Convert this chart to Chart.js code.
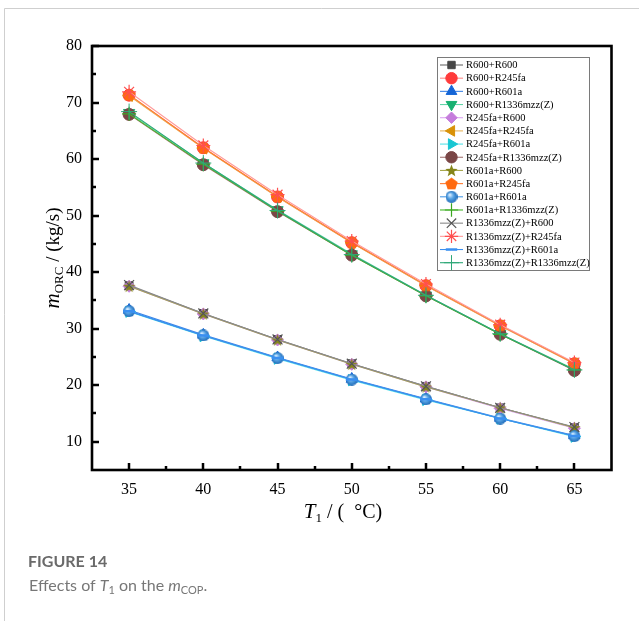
<!DOCTYPE html>
<html><head><meta charset="utf-8">
<script src="https://cdn.jsdelivr.net/npm/chart.js@4/dist/chart.umd.min.js"></script>
<style>html,body{margin:0;padding:0;background:#fff}#wrap{width:639px;height:621px;position:relative}</style>
</head><body><div id="wrap"><canvas id="c" width="639" height="621"></canvas></div>
<script>
// ---- data ----
const T1 = [35, 40, 45, 50, 55, 60, 65];
const xTicks = [35, 40, 45, 50, 55, 60, 65];
const yTicks = [10, 20, 30, 40, 50, 60, 70, 80];
const seriesNames = [
  'R600+R600', 'R600+R245fa', 'R600+R601a', 'R600+R1336mzz(Z)',
  'R245fa+R600', 'R245fa+R245fa', 'R245fa+R601a', 'R245fa+R1336mzz(Z)',
  'R601a+R600', 'R601a+R245fa', 'R601a+R601a', 'R601a+R1336mzz(Z)',
  'R1336mzz(Z)+R600', 'R1336mzz(Z)+R245fa', 'R1336mzz(Z)+R601a', 'R1336mzz(Z)+R1336mzz(Z)'
];
const m_R600_R600       = [37.6, 32.7, 28.1, 23.8, 19.8, 16.0, 12.5];
const m_R600_R245fa     = [71.3, 62.0, 53.3, 45.2, 37.6, 30.5, 23.8];
const m_R600_R601a      = [33.3, 28.9, 24.9, 21.1, 17.6, 14.2, 11.1];
const m_R600_R1336      = [68.2, 59.3, 51.0, 43.2, 35.9, 29.1, 22.8];
const m_R245fa_R600     = [37.5, 32.6, 28.0, 23.7, 19.7, 15.9, 12.4];
const m_R245fa_R245fa   = [71.2, 61.9, 53.3, 45.2, 37.6, 30.5, 23.8];
const m_R245fa_R601a    = [33.0, 28.7, 24.7, 20.9, 17.4, 14.1, 10.9];
const m_R245fa_R1336    = [67.9, 59.0, 50.7, 43.0, 35.8, 29.0, 22.6];
const m_R601a_R600      = [37.5, 32.6, 28.0, 23.7, 19.7, 16.0, 12.5];
const m_R601a_R245fa    = [71.4, 62.0, 53.4, 45.3, 37.7, 30.6, 23.9];
const m_R601a_R601a     = [33.1, 28.8, 24.8, 21.0, 17.5, 14.1, 11.0];
const m_R601a_R1336     = [68.0, 59.1, 50.8, 43.0, 35.8, 29.0, 22.7];
const m_R1336_R600      = [37.7, 32.7, 28.1, 23.8, 19.8, 16.0, 12.6];
const m_R1336_R245fa    = [71.9, 62.4, 53.7, 45.5, 37.9, 30.7, 24.0];
const m_R1336_R601a     = [33.1, 28.8, 24.8, 21.0, 17.5, 14.1, 11.0];
const m_R1336_R1336     = [68.4, 59.3, 50.9, 43.1, 35.9, 29.1, 22.7];
const seriesValues = [
  m_R600_R600, m_R600_R245fa, m_R600_R601a, m_R600_R1336,
  m_R245fa_R600, m_R245fa_R245fa, m_R245fa_R601a, m_R245fa_R1336,
  m_R601a_R600, m_R601a_R245fa, m_R601a_R601a, m_R601a_R1336,
  m_R1336_R600, m_R1336_R245fa, m_R1336_R601a, m_R1336_R1336
];

// ---- custom marker images ----
function mkCanvas(s) { const c = document.createElement('canvas'); c.width = s; c.height = s; return c; }
function makeStar(color, s) {
  const c = mkCanvas(s), g = c.getContext('2d'); const cx = s / 2, cy = s / 2 + 0.5, R = s / 2, r = R * 0.42;
  g.beginPath();
  for (let i = 0; i < 10; i++) { const a = -Math.PI / 2 + i * Math.PI / 5; const rr = i % 2 ? r : R; g.lineTo(cx + rr * Math.cos(a), cy + rr * Math.sin(a)); }
  g.closePath(); g.fillStyle = color; g.fill(); return c;
}
function makePentagon(color, s) {
  const c = mkCanvas(s), g = c.getContext('2d'); const cx = s / 2, cy = s / 2 + 0.5, R = s / 2;
  g.beginPath();
  for (let i = 0; i < 5; i++) { const a = -Math.PI / 2 + i * 2 * Math.PI / 5; g.lineTo(cx + R * Math.cos(a), cy + R * Math.sin(a)); }
  g.closePath(); g.fillStyle = color; g.fill(); return c;
}
function makeSphere(s) {
  const c = mkCanvas(s), g = c.getContext('2d'); const cx = s / 2, cy = s / 2, R = s / 2;
  const gr = g.createRadialGradient(cx - R * 0.3, cy - R * 0.35, R * 0.1, cx, cy, R);
  gr.addColorStop(0, '#d8ecff'); gr.addColorStop(0.45, '#5aa6e6'); gr.addColorStop(1, '#1f6bb8');
  g.beginPath(); g.arc(cx, cy, R, 0, Math.PI * 2); g.fillStyle = gr; g.fill(); return c;
}
const starImg = makeStar('#85851a', 13);
const pentImg = makePentagon('#ff6a10', 13);
const sphereImg = makeSphere(12);

// ---- styles (per series) ----
const styles = [
  { line: '#6a6a6a', fill: '#474747', edge: '#474747', ps: 'rect', r: 5.5, rot: 0, bw: 1 },
  { line: '#ff8a8a', fill: '#ff3b3b', edge: '#ff3b3b', ps: 'circle', r: 6, rot: 0, bw: 1 },
  { line: '#3f86e6', fill: '#1565d6', edge: '#1565d6', ps: 'triangle', r: 6.5, rot: 0, bw: 1 },
  { line: '#62d4a8', fill: '#17b070', edge: '#17b070', ps: 'triangle', r: 6.5, rot: 180, bw: 1 },
  { line: '#dca4f2', fill: '#c57ddc', edge: '#c57ddc', ps: 'rectRot', r: 6, rot: 0, bw: 1 },
  { line: '#e8b55a', fill: '#d99208', edge: '#d99208', ps: 'triangle', r: 6.5, rot: -90, bw: 1 },
  { line: '#55e2e8', fill: '#18c6d2', edge: '#18c6d2', ps: 'triangle', r: 6.5, rot: 90, bw: 1 },
  { line: '#a47474', fill: '#7a4646', edge: '#7a4646', ps: 'circle', r: 6, rot: 0, bw: 1 },
  { line: '#a8a850', fill: '#85851a', edge: '#85851a', ps: starImg, r: 6.5, rot: 0, bw: 1 },
  { line: '#ff7a30', fill: '#ff6a10', edge: '#ff6a10', ps: pentImg, r: 6.5, rot: 0, bw: 1 },
  { line: '#4a9ae6', fill: '#3d8fd8', edge: '#3d8fd8', ps: sphereImg, r: 6, rot: 0, bw: 1 },
  { line: '#44b82a', fill: '#3aa820', edge: '#3aa820', ps: 'cross', r: 7, rot: 0, bw: 1.2 },
  { line: '#8a8a8a', fill: '#555555', edge: '#555555', ps: 'crossRot', r: 7, rot: 0, bw: 1.2 },
  { line: '#ff9a9a', fill: '#ff5050', edge: '#ff5050', ps: 'star', r: 7, rot: 0, bw: 1.2 },
  { line: '#3a8ff0', fill: '#3a8ff0', edge: '#3a8ff0', ps: 'line', r: 6, rot: 0, bw: 2.5 },
  { line: '#2fa878', fill: '#2fa878', edge: '#2fa878', ps: 'cross', r: 8, rot: 0, bw: 1 }
];

const datasets = seriesNames.map((name, i) => ({
  label: name,
  data: T1.map((t, k) => ({ x: t, y: seriesValues[i][k] })),
  borderColor: styles[i].line,
  borderWidth: 1.1,
  backgroundColor: styles[i].fill,
  pointStyle: styles[i].ps,
  pointRadius: styles[i].r,
  pointRotation: styles[i].rot,
  pointBackgroundColor: styles[i].fill,
  pointBorderColor: styles[i].edge,
  pointBorderWidth: styles[i].bw,
  tension: 0,
  fill: false,
  order: 16 - i
}));

const SERIF = "'Liberation Serif', 'Times New Roman', serif";

function drawRuns(ctx, runs, x, y, align) {
  let total = 0;
  runs.forEach(r => { ctx.font = r.font; r.w = ctx.measureText(r.t).width; total += r.w; });
  let cx = align === 'center' ? x - total / 2 : x;
  ctx.textAlign = 'left'; ctx.textBaseline = 'alphabetic';
  runs.forEach(r => { ctx.font = r.font; ctx.fillStyle = r.color || '#000'; ctx.fillText(r.t, cx, y + (r.dy || 0)); cx += r.w; });
}

const decor = {
  id: 'decor',
  afterDraw(chart) {
    const ctx = chart.ctx, ca = chart.chartArea, xs = chart.scales.x, ys = chart.scales.y;
    ctx.save();
    // page card border
    ctx.strokeStyle = '#cfcfcf'; ctx.lineWidth = 1;
    ctx.beginPath(); ctx.moveTo(4.5, 621); ctx.lineTo(4.5, 8.5); ctx.lineTo(639, 8.5); ctx.stroke();
    // inward ticks
    ctx.strokeStyle = '#000'; ctx.lineWidth = 2.5;
    ctx.beginPath();
    xTicks.forEach(v => { const p = Math.round(xs.getPixelForValue(v)); ctx.moveTo(p, ca.bottom); ctx.lineTo(p, ca.bottom - 7); });
    for (let v = 37.5; v < 65; v += 5) { const p = Math.round(xs.getPixelForValue(v)); ctx.moveTo(p, ca.bottom); ctx.lineTo(p, ca.bottom - 4); }
    yTicks.forEach(v => { const p = Math.round(ys.getPixelForValue(v)); ctx.moveTo(ca.left, p); ctx.lineTo(ca.left + 7, p); });
    for (let v = 15; v < 80; v += 10) { const p = Math.round(ys.getPixelForValue(v)); ctx.moveTo(ca.left, p); ctx.lineTo(ca.left + 4, p); }
    ctx.stroke();
    // frame
    ctx.lineWidth = 2.6;
    ctx.strokeRect(ca.left, ca.top, ca.right - ca.left, ca.bottom - ca.top);

    // legend
    const lx = 437.5, ly = 57.5, lw = 152, lh = 213;
    ctx.fillStyle = '#fff'; ctx.fillRect(lx, ly, lw, lh);
    ctx.strokeStyle = '#7a7a7a'; ctx.lineWidth = 1; ctx.strokeRect(lx, ly, lw, lh);
    chart.data.datasets.forEach((ds, i) => {
      const y = 65 + i * 13.18;
      ctx.strokeStyle = ds.borderColor; ctx.lineWidth = 1.1;
      ctx.beginPath(); ctx.moveTo(440, y); ctx.lineTo(463, y); ctx.stroke();
      ctx.fillStyle = ds.pointBackgroundColor; ctx.strokeStyle = ds.pointBorderColor;
      ctx.lineWidth = ds.pointBorderWidth;
      Chart.helpers.drawPoint(ctx, { pointStyle: ds.pointStyle, rotation: ds.pointRotation, radius: ds.pointRadius * 0.95, borderWidth: ds.pointBorderWidth }, 451.5, y);
      ctx.fillStyle = '#000'; ctx.font = '10.5px ' + SERIF; ctx.textAlign = 'left'; ctx.textBaseline = 'middle';
      ctx.fillText(ds.label, 466, y + 0.5);
    });

    // y title (rotated)
    ctx.save();
    ctx.translate(59, (ca.top + ca.bottom) / 2);
    ctx.rotate(-Math.PI / 2);
    drawRuns(ctx, [
      { t: 'm', font: 'italic 21px ' + SERIF },
      { t: 'ORC', font: '13px ' + SERIF, dy: 4 },
      { t: ' / (kg/s)', font: '19px ' + SERIF }
    ], 0, 0, 'center');
    ctx.restore();

    // x title
    drawRuns(ctx, [
      { t: 'T', font: 'italic 21px ' + SERIF },
      { t: '1', font: '13px ' + SERIF, dy: 4 },
      { t: ' / (  \u00B0C)', font: '20px ' + SERIF }
    ], 343, 518, 'center');

    // caption
    ctx.fillStyle = '#6a6a6a';
    ctx.font = 'bold 16px Lato, "Open Sans", sans-serif'; ctx.textAlign = 'left'; ctx.textBaseline = 'alphabetic';
    ctx.fillText('FIGURE 14', 28, 567);
    const SANS = 'Lato, "Open Sans", sans-serif';
    drawRuns(ctx, [
      { t: 'Effects of ', font: '16px ' + SANS, color: '#777' },
      { t: 'T', font: 'italic 16px ' + SANS, color: '#777' },
      { t: '1', font: '11px ' + SANS, color: '#777', dy: 3 },
      { t: ' on the ', font: '16px ' + SANS, color: '#777' },
      { t: 'm', font: 'italic 16px ' + SANS, color: '#777' },
      { t: 'COP', font: '11px ' + SANS, color: '#777', dy: 3 },
      { t: '.', font: '16px ' + SANS, color: '#777' }
    ], 29, 591, 'left');
    ctx.restore();
  }
};

new Chart(document.getElementById('c'), {
  type: 'line',
  data: { datasets },
  options: {
    responsive: false,
    devicePixelRatio: 1,
    animation: false,
    layout: { padding: { top: 46, right: 27.5, left: 0, bottom: 0 } },
    plugins: { legend: { display: false }, tooltip: { enabled: false } },
    scales: {
      x: {
        type: 'linear', min: 32.5, max: 67.5,
        afterBuildTicks: s => { s.ticks = xTicks.map(v => ({ value: v })); },
        afterFit: s => { s.height = 151; },
        grid: { display: false, drawTicks: false },
        border: { display: false },
        ticks: { color: '#000', font: { family: SERIF, size: 16 }, padding: 10, maxRotation: 0, autoSkip: false }
      },
      y: {
        type: 'linear', min: 5, max: 80,
        afterBuildTicks: s => { s.ticks = yTicks.map(v => ({ value: v })); },
        afterFit: s => { s.width = 92; },
        grid: { display: false, drawTicks: false },
        border: { display: false },
        ticks: { color: '#000', font: { family: SERIF, size: 16 }, padding: 10, autoSkip: false }
      }
    }
  },
  plugins: [decor]
});
</script>
</body></html>
